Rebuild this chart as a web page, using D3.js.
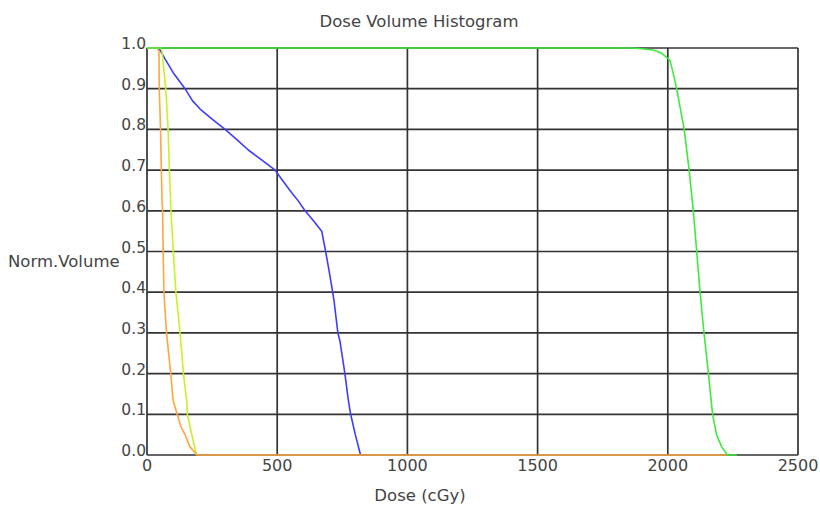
<!DOCTYPE html>
<html>
<head>
<meta charset="utf-8">
<script src="https://cdn.jsdelivr.net/npm/d3@7"></script>
<style>
  body { margin: 0; background: #ffffff; }
  svg text { font-family: "DejaVu Sans", Verdana, sans-serif; fill: #444; }
</style>
</head>
<body>
<div id="chart"></div>
<script>
// Dose (cGy) / normalised volume pairs
var blue_dvh = [
  [0, 1], [45, 1], [50, 0.995], [72, 0.97], [100, 0.94], [146, 0.9], [175, 0.87],
  [204, 0.85], [250, 0.825], [300, 0.8], [345, 0.775], [388, 0.75], [440, 0.725],
  [492, 0.7], [520, 0.675], [549, 0.65], [580, 0.625], [607, 0.6], [640, 0.575],
  [671, 0.55], [686, 0.5], [700, 0.45], [713, 0.4], [718, 0.38], [733, 0.3],
  [741, 0.28], [760, 0.2], [772, 0.14], [782, 0.1], [800, 0.05], [820, 0]
];
var yellow_dvh = [
  [0, 1], [55, 1], [58, 0.99], [72, 0.9], [81, 0.8], [86, 0.7], [92, 0.6],
  [101, 0.5], [111, 0.4], [127, 0.3], [140, 0.2], [152, 0.135], [155, 0.1],
  [172, 0.05], [190, 0]
];
var orange_dvh = [
  [0, 1], [40, 1], [46, 0.99], [47, 0.9], [52, 0.8], [55, 0.7], [58, 0.62],
  [60, 0.6], [62, 0.5], [65, 0.4], [75, 0.3], [91, 0.2], [100, 0.135],
  [116, 0.1], [130, 0.07], [146, 0.05], [165, 0.02], [192, 0], [2229, 0]
];
var green_dvh = [
  [0, 1], [1860, 1], [1900, 0.998], [1943, 0.995], [1975, 0.988], [2008, 0.97],
  [2020, 0.94], [2034, 0.9], [2063, 0.8], [2082, 0.7], [2098, 0.6], [2111, 0.5],
  [2124, 0.4], [2139, 0.3], [2156, 0.2], [2172, 0.1], [2187, 0.05], [2207, 0.02],
  [2229, 0], [2265, 0]
];

var x_ticks = [0, 500, 1000, 1500, 2000, 2500];
var y_ticks = [0, 0.1, 0.2, 0.3, 0.4, 0.5, 0.6, 0.7, 0.8, 0.9, 1.0];

// drawn in this order, last on top
var series = [
  { name: "blue", data: blue_dvh, color: "#3d3dff" },
  { name: "yellow", data: yellow_dvh, color: "#c6f225" },
  { name: "orange", data: orange_dvh, color: "#ffa640" },
  { name: "green", data: green_dvh, color: "#3cec3c" }
];

var width = 820, height = 513;
var margin = { top: 48, right: 22, bottom: 58, left: 147 };

var svg = d3.select("#chart")
  .append("svg")
  .attr("width", width)
  .attr("height", height);

var x = d3.scaleLinear().domain([0, 2500]).range([margin.left, width - margin.right]);
var y = d3.scaleLinear().domain([0, 1]).range([height - margin.bottom, margin.top]);

// Grid lines
svg.selectAll(".v-grid")
  .data(x_ticks)
  .enter()
  .append("line")
  .attr("class", "v-grid")
  .attr("x1", d => x(d)).attr("x2", d => x(d))
  .attr("y1", y(0)).attr("y2", y(1))
  .attr("stroke", "#333")
  .attr("stroke-width", 1.7);

svg.selectAll(".h-grid")
  .data(y_ticks)
  .enter()
  .append("line")
  .attr("class", "h-grid")
  .attr("x1", x(0)).attr("x2", x(2500))
  .attr("y1", d => y(d)).attr("y2", d => y(d))
  .attr("stroke", "#333")
  .attr("stroke-width", 1.7);

// Tick labels
svg.selectAll(".y-label")
  .data(y_ticks)
  .enter()
  .append("text")
  .attr("class", "y-label")
  .attr("x", x(0) - 1)
  .attr("y", d => y(d) + 1)
  .attr("text-anchor", "end")
  .attr("font-size", 15.5)
  .text(d => d3.format(".1f")(d));

svg.selectAll(".x-label")
  .data(x_ticks)
  .enter()
  .append("text")
  .attr("class", "x-label")
  .attr("x", d => x(d))
  .attr("y", y(0) + 16)
  .attr("text-anchor", "middle")
  .attr("font-size", 16)
  .text(d => d);

// DVH curves
var line = d3.line()
  .x(d => x(d[0]))
  .y(d => y(d[1]));

svg.selectAll(".dvh")
  .data(series)
  .enter()
  .append("path")
  .attr("class", "dvh")
  .attr("d", d => line(d.data))
  .attr("fill", "none")
  .attr("stroke", d => d.color)
  .attr("stroke-width", 1.6)
  .attr("stroke-linejoin", "round");

// Titles
svg.append("text")
  .attr("x", 419)
  .attr("y", 27)
  .attr("text-anchor", "middle")
  .attr("font-size", 16.5)
  .text("Dose Volume Histogram");

svg.append("text")
  .attr("x", 8)
  .attr("y", 267)
  .attr("font-size", 16.5)
  .text("Norm.Volume");

svg.append("text")
  .attr("x", 420)
  .attr("y", 501)
  .attr("text-anchor", "middle")
  .attr("font-size", 16.5)
  .text("Dose (cGy)");
</script>
</body>
</html>
